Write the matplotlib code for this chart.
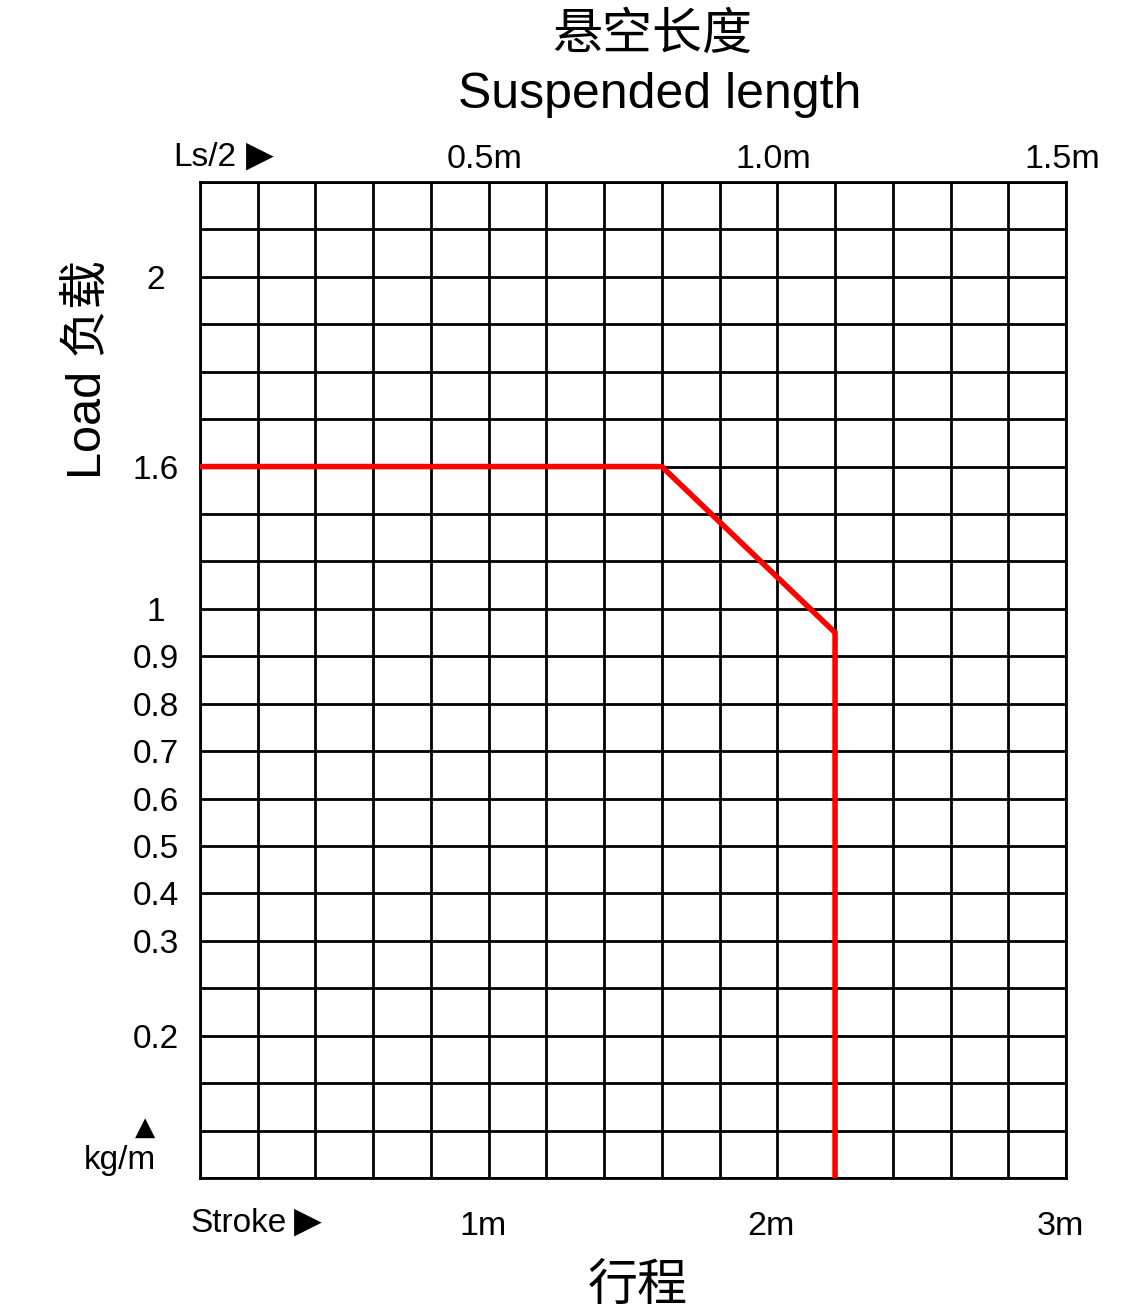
import numpy as np
import matplotlib
matplotlib.use("Agg")
import matplotlib.pyplot as plt
from matplotlib.transforms import ScaledTranslation

# ---- data ----
stroke_ticks = [1, 2, 3]
stroke_labels = ["1m", "2m", "3m"]
suspended_labels = ["0.5m", "1.0m", "1.5m"]
load_labels = ["2", "1.6", "1", "0.9", "0.8", "0.7", "0.6", "0.5", "0.4", "0.3", "0.2"]
load_values = [2.0, 1.6, 1.0, 0.9, 0.8, 0.7, 0.6, 0.5, 0.4, 0.3, 0.2]
load_rows = [2, 6, 9, 10, 11, 12, 13, 14, 15, 16, 18]
curve_stroke = [0.0, 1.6, 2.2, 2.2]
curve_load = [1.6, 1.6, 0.95]  # last point drops to the axis floor
n_rows = 21
stroke_max = 3.0
stroke_step = 0.2

W, H = 1128, 1315
fig = plt.figure(figsize=(W / 100, H / 100), dpi=100)
fig.patch.set_facecolor("white")
ax = fig.add_axes([200 / W, 1 - 1178 / H, (1066 - 200) / W, (1178 - 182) / H])

latin = "Liberation Sans"
cjk = ["Noto Sans CJK SC", "DejaVu Sans"]
mixed = [latin, "Noto Sans CJK SC", "DejaVu Sans"]

ax.set_xlim(0, stroke_max)
ax.set_ylim(n_rows, 0)

# grid
xg = np.arange(0, stroke_max + 1e-9, stroke_step)
for x in xg:
    ax.axvline(x, color="black", lw=2.0, zorder=1)
for r in range(n_rows + 1):
    ax.axhline(r, color="black", lw=2.0, zorder=1)
for s in ax.spines.values():
    s.set_linewidth(2.0)

# red curve
lv = np.array(load_values)[::-1]
rv = np.array(load_rows)[::-1]
rows = list(np.interp(curve_load, lv, rv)) + [ax.get_ylim()[0]]
ax.plot(curve_stroke, rows, color="#ff0000", lw=4.0, solid_joinstyle="miter",
        solid_capstyle="butt", zorder=3)

# bottom ticks
ax.set_xticks(stroke_ticks)
ax.set_xticklabels(stroke_labels, fontsize=24.5, family=latin)
ax.tick_params(axis="x", length=0, pad=24)
shift = ScaledTranslation(-6 / 100, 0, fig.dpi_scale_trans)
for t in ax.get_xticklabels():
    t.set_transform(t.get_transform() + shift)

# top ticks (suspended length = stroke / 2)
top = ax.secondary_xaxis("top", functions=(lambda x: x / 2, lambda x: x * 2))
top.set_xticks([s / 2 for s in stroke_ticks])
top.set_xticklabels(suspended_labels, fontsize=24.5, family=latin)
top.tick_params(length=0, pad=5)
top.spines["top"].set_visible(False)
shift_top = ScaledTranslation(-4 / 100, 0, fig.dpi_scale_trans)
for t in top.get_xticklabels():
    t.set_transform(t.get_transform() + shift_top)

# y ticks
ax.set_yticks(load_rows)
ax.set_yticklabels(load_labels, fontsize=24, family=latin)
ax.tick_params(axis="y", length=0, pad=32)
for t in ax.get_yticklabels():
    t.set_horizontalalignment("center")

# texts
fig.text(652 / W, 1 - 35 / H, "悬空长度", ha="center", va="center", fontsize=36, family=cjk)
fig.text(660 / W, 1 - 95 / H, "Suspended length", ha="center", va="center", fontsize=36, family=latin)
fig.text(173 / W, 1 - 157 / H, "Ls/2", ha="left", va="center", fontsize=24, family=latin)
fig.text(260 / W, 1 - 156 / H, "▶", ha="center", va="center", fontsize=26, family=["DejaVu Sans"])
fig.text(88 / W, 1 - 370 / H, "Load 负载", ha="center", va="center", rotation=90, fontsize=35, family=mixed)
fig.text(145 / W, 1 - 1128 / H, "▲", ha="center", va="center", fontsize=19, family=["DejaVu Sans"])
fig.text(120 / W, 1 - 1161 / H, "kg/m", ha="center", va="center", fontsize=24, family=latin)
fig.text(190 / W, 1 - 1223 / H, "Stroke", ha="left", va="center", fontsize=24, family=latin)
fig.text(308 / W, 1 - 1222 / H, "▶", ha="center", va="center", fontsize=26, family=["DejaVu Sans"])
fig.text(638 / W, 1 - 1286 / H, "行程", ha="center", va="center", fontsize=36, family=cjk)

fig.savefig("out.png", dpi=100, facecolor="white")
